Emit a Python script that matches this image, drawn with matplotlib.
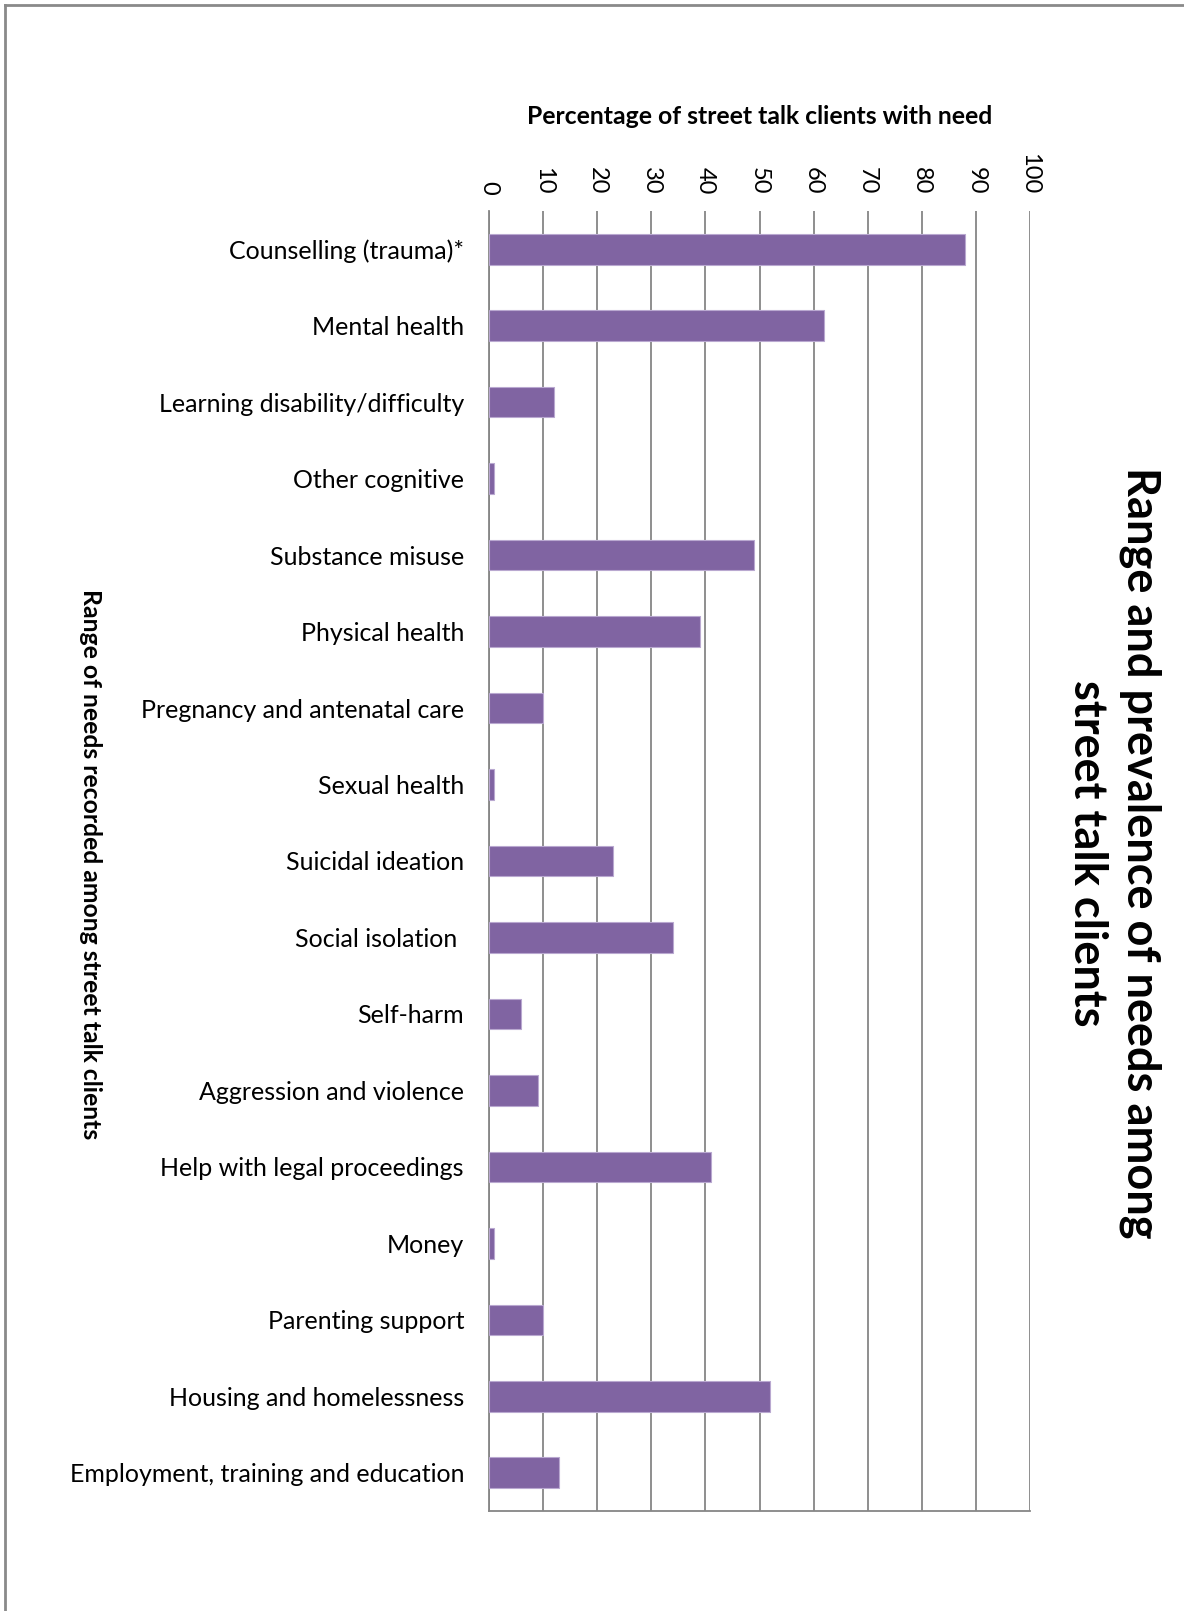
import matplotlib.pyplot as plt
from matplotlib.lines import Line2D

# ── data ──────────────────────────────────────────────────────────
needs = [
    'Counselling (trauma)*',
    'Mental health',
    'Learning disability/difficulty',
    'Other cognitive',
    'Substance misuse',
    'Physical health',
    'Pregnancy and antenatal care',
    'Sexual health',
    'Suicidal ideation',
    'Social isolation ',
    'Self-harm',
    'Aggression and violence',
    'Help with legal proceedings',
    'Money',
    'Parenting support',
    'Housing and homelessness',
    'Employment, training and education',
]
pct_clients = [88, 62, 12, 1, 49, 39, 10, 1, 23, 34, 6, 9, 41, 1, 10, 52, 13]
x_ticks = list(range(0, 101, 10))

title = 'Range and prevalence of needs among\nstreet talk clients'
x_title = 'Percentage of street talk clients with need'
y_title = 'Range of needs recorded among street talk clients'

plt.rcParams['font.family'] = ['Lato', 'DejaVu Sans']

W, H = 1184, 1611
fig = plt.figure(figsize=(W / 100, H / 100), dpi=100)

# axes placed in pixel terms
left, right, top, bottom = 489, 1030, 211, 1511
ax = fig.add_axes([left / W, 1 - bottom / H, (right - left) / W, (bottom - top) / H])

ypos = list(range(len(needs)))
ax.barh(ypos, pct_clients, height=0.4, color='#8064A2',
        edgecolor='#B9A8D0', linewidth=0.8, zorder=3)

ax.set_xlim(0, 100)
ax.set_ylim(-0.5, len(needs) - 0.5)
ax.invert_yaxis()

ax.xaxis.tick_top()
ax.set_xticks(x_ticks)
ax.set_xticklabels([str(t) for t in x_ticks], rotation=-90, fontsize=17,
                   va='bottom', ha='center')
ax.tick_params(axis='x', length=0, pad=12)
ax.set_yticks(ypos)
ax.set_yticklabels(needs, fontsize=18)
ax.tick_params(axis='y', length=0, pad=18)

ax.grid(axis='x', color='#868686', linewidth=1.3, zorder=0)
for s in ['top', 'right']:
    ax.spines[s].set_visible(False)
for s in ['left', 'bottom']:
    ax.spines[s].set_color('#868686')
    ax.spines[s].set_linewidth(1.3)

# ── titles ────────────────────────────────────────────────────────
fig.text(760 / W, 1 - 116 / H, x_title, fontsize=17.8,
         fontweight='bold', ha='center', va='center')
fig.text(90 / W, 1 - 864 / H, y_title, fontsize=17.8, fontweight='bold',
         rotation=-90, ha='center', va='center')
fig.text(1114 / W, 1 - 853 / H, title, fontsize=32.5, fontweight='bold',
         rotation=-90, ha='center', va='center', linespacing=1.32)

# ── outer frame (left and top edges only visible) ────────────────
fig.add_artist(Line2D([5 / W, 5 / W], [0, 1 - 5 / H], color='#8a8a8a',
                      linewidth=2, transform=fig.transFigure))
fig.add_artist(Line2D([5 / W, 1], [1 - 5 / H, 1 - 5 / H], color='#8a8a8a',
                      linewidth=2, transform=fig.transFigure))

fig.savefig('out.png', dpi=100, facecolor='white')
